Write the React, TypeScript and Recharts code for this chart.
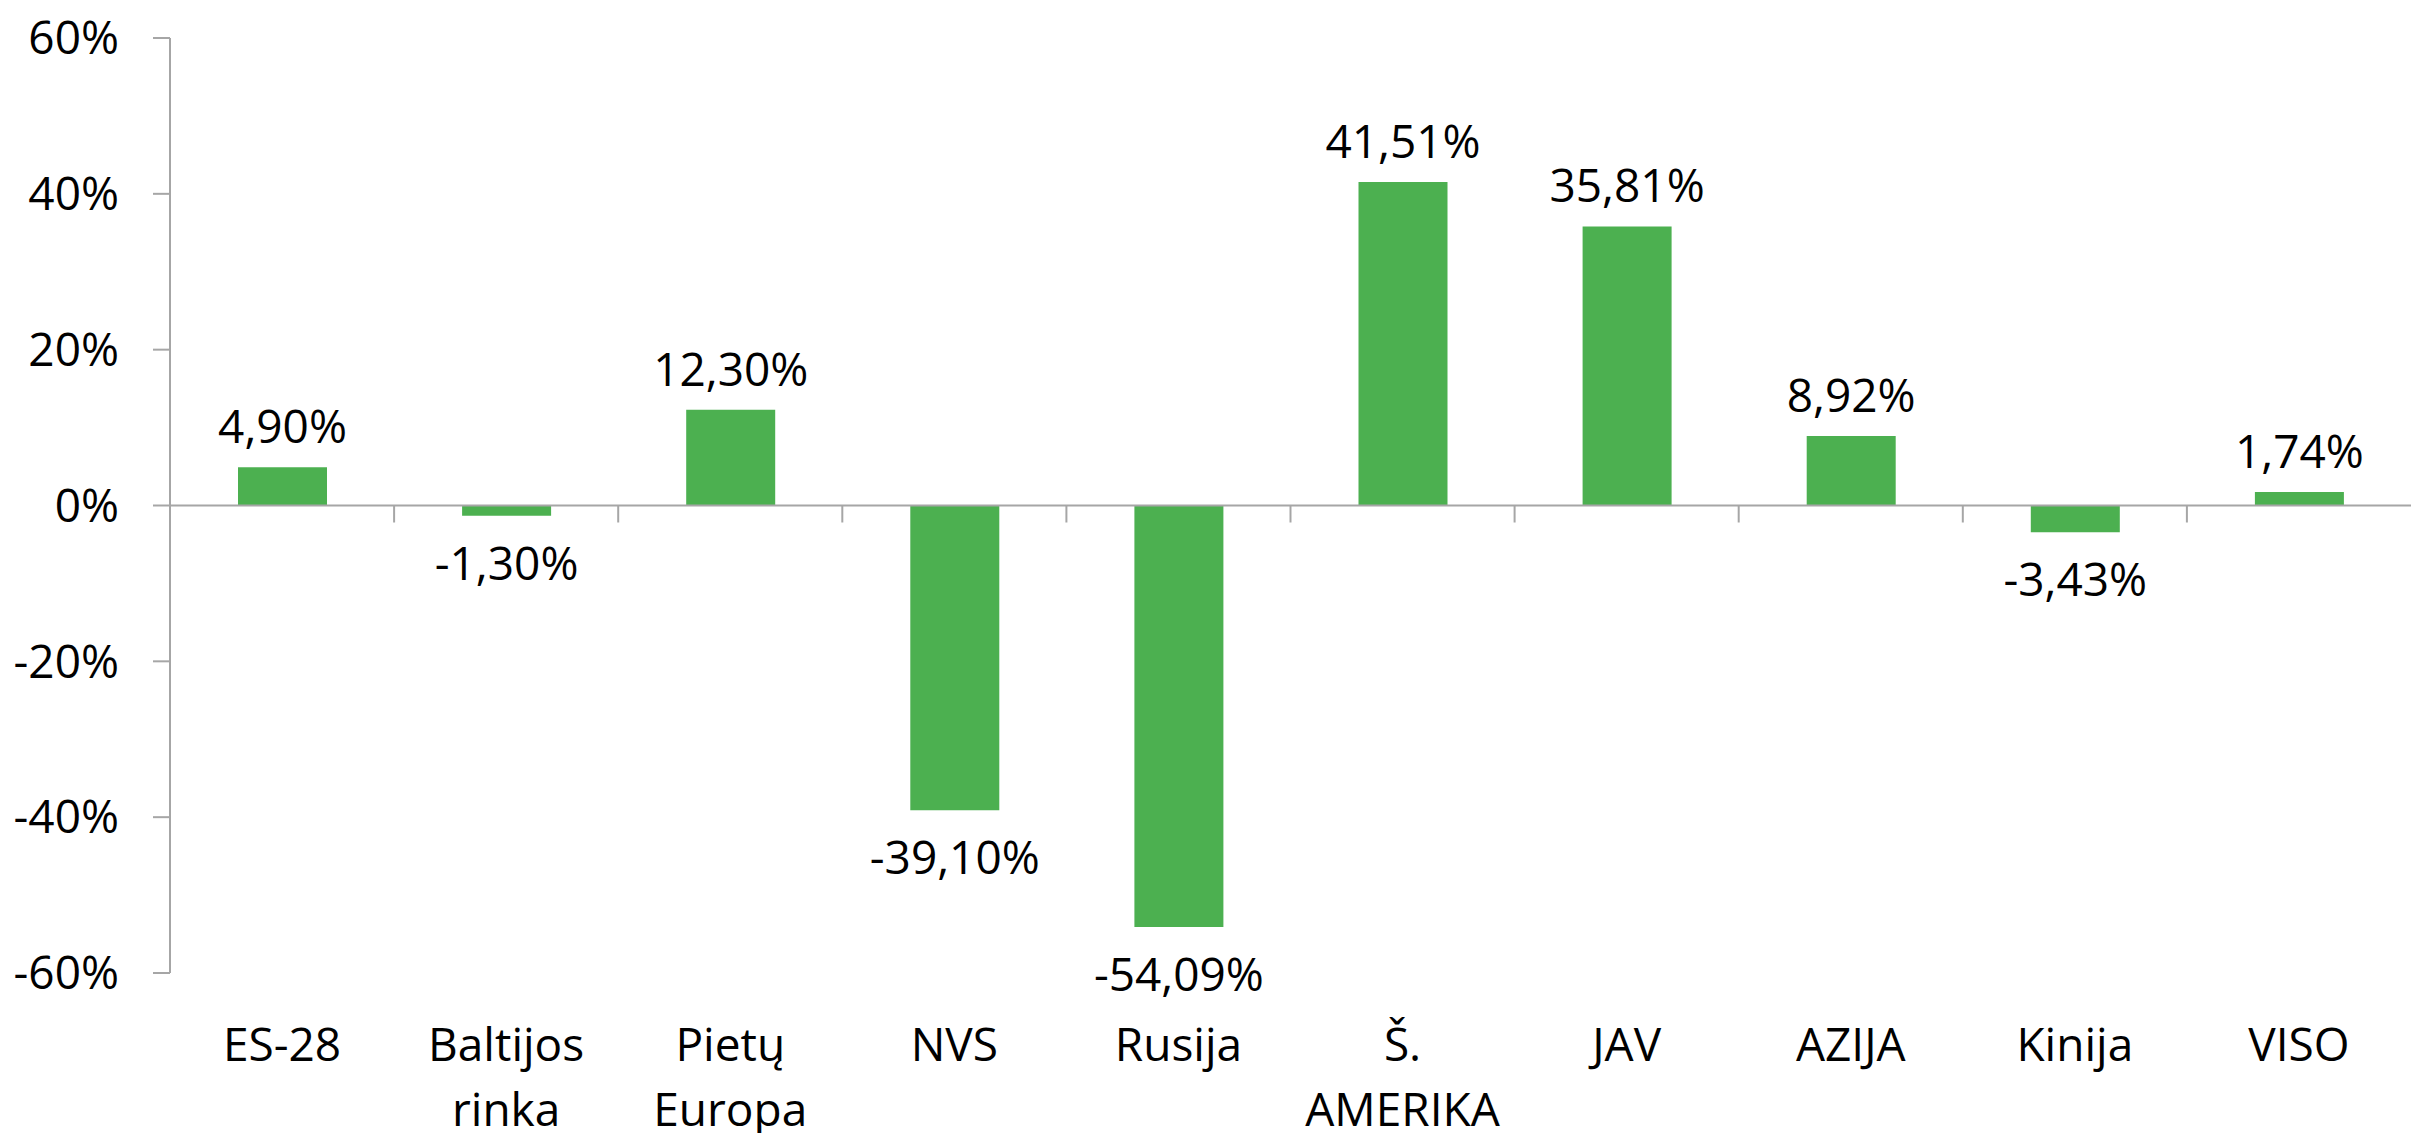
import React from 'react';
import { BarChart, Bar, XAxis, YAxis, ReferenceLine, LabelList } from 'recharts';

const categories = ['ES-28', 'Baltijos\nrinka', 'Pietų\nEuropa', 'NVS', 'Rusija', 'Š.\nAMERIKA', 'JAV', 'AZIJA', 'Kinija', 'VISO'];
const changes = [4.9, -1.3, 12.3, -39.1, -54.09, 41.51, 35.81, 8.92, -3.43, 1.74];
const yTicks = [-60, -40, -20, 0, 20, 40, 60];

const data = categories.map((name, i) => ({ name, value: changes[i] }));

const FONT = '"Open Sans", sans-serif';
const FONT_SIZE = 46;
const AXIS_GREY = '#a6a6a6';
const GREEN = '#4cb050';

const fmt = (v: number) => `${v.toFixed(2).replace('.', ',')}%`;

const CategoryTick = ({ x, y, payload }: any) => {
  const lines = String(payload.value).split('\n');
  return (
    <text x={x} y={y} textAnchor="middle" fontFamily={FONT} fontSize={FONT_SIZE} fill="#000">
      {lines.map((line, i) => (
        <tspan key={i} x={x} dy={i === 0 ? 33 : 65}>{line}</tspan>
      ))}
    </text>
  );
};

const ValueLabel = ({ x, y, width, height, value }: any) => {
  const top = Math.min(+y, +y + +height);
  const bottom = Math.max(+y, +y + +height);
  const ty = value >= 0 ? top - 24 : bottom + 64;
  return (
    <text x={+x + +width / 2} y={ty} textAnchor="middle" fontFamily={FONT} fontSize={FONT_SIZE} fill="#000">
      {fmt(value)}
    </text>
  );
};

// zero line with small ticks at the category boundaries
const ZeroLine = ({ x1, y1, x2, y2 }: any) => {
  const step = (x2 - x1) / categories.length;
  return (
    <g>
      <line x1={x1} y1={y1} x2={x2} y2={y2} stroke={AXIS_GREY} strokeWidth={2} />
      {categories.map((_, i) =>
        i === 0 ? null : (
          <line key={i} x1={x1 + step * i} y1={y1} x2={x1 + step * i} y2={y1 + 17} stroke={AXIS_GREY} strokeWidth={2} />
        )
      )}
    </g>
  );
};

export default function App() {
  return (
    <div style={{ position: 'absolute', left: 0, top: 0, background: '#fff' }}>
      <BarChart width={2411} height={1133} data={data} margin={{ top: 38, right: 0, left: 0, bottom: 0 }}>
        <XAxis
          dataKey="name"
          height={160}
          axisLine={false}
          tickLine={false}
          tickSize={0}
          tickMargin={55}
          interval={0}
          tick={<CategoryTick />}
        />
        <YAxis
          width={170}
          domain={[-60, 60]}
          ticks={yTicks}
          tickFormatter={(v: number) => `${v}%`}
          axisLine={{ stroke: AXIS_GREY, strokeWidth: 2 }}
          tickLine={{ stroke: AXIS_GREY, strokeWidth: 2 }}
          tickSize={17}
          tickMargin={34}
          tick={{ fill: '#000', fontSize: FONT_SIZE, fontFamily: FONT }}
        />
        <Bar dataKey="value" fill={GREEN} barSize={89} isAnimationActive={false}>
          <LabelList dataKey="value" content={<ValueLabel />} />
        </Bar>
        <ReferenceLine y={0} shape={<ZeroLine />} />
      </BarChart>
    </div>
  );
}
